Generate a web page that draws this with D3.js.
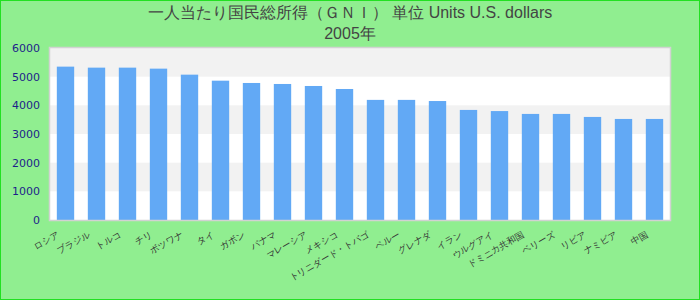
<!DOCTYPE html>
<html>
<head>
<meta charset="utf-8">
<title>2005</title>
<style>
    body { margin: 0; }
    svg { display: block; font-family: "Liberation Sans", Arial, sans-serif; }
</style>
</head>
<body>
<svg width="700" height="300"></svg>
<script src="https://cdnjs.cloudflare.com/ajax/libs/d3/7.8.5/d3.min.js"></script>
<script>
    // datos
    const titleLines = ["一人当たり国民総所得（ＧＮＩ） 単位 Units U.S. dollars", "2005年"];
    const categories = ["ロシア", "ブラジル", "トルコ", "チリ", "ボツワナ", "タイ", "ガボン", "パナマ", "マレーシア", "メキシコ",
        "トリニダード・トバゴ", "ペルー", "グレナダ", "イラン", "ウルグアイ", "ドミニカ共和国", "ベリーズ", "リビア", "ナミビア", "中国"];
    const values = [5350, 5315, 5315, 5280, 5070, 4860, 4780, 4745, 4675, 4570,
        4190, 4190, 4150, 3840, 3800, 3700, 3700, 3595, 3525, 3525];
    const yTicks = [0, 1000, 2000, 3000, 4000, 5000, 6000];

    const svg = d3.select("svg");
    const width = 700, height = 300;
    const margin = { top: 48, right: 30, bottom: 80, left: 50 };
    const x0 = margin.left, x1 = width - margin.right;
    const y0 = height - margin.bottom, y1 = margin.top;

    // fondo y marco exterior
    svg.append("rect")
        .attr("x", 0.5).attr("y", 0.5)
        .attr("width", width - 1).attr("height", height - 1)
        .attr("fill", "#90ee90")
        .attr("stroke", "#22e022");

    const x = d3.scaleBand()
        .domain(categories)
        .range([x0, x1])
        .paddingInner(0.44)
        .paddingOuter(0.22);
    const y = d3.scaleLinear()
        .domain([0, 6000])
        .range([y0, y1]);

    // area del grafico con bandas alternas
    svg.append("rect")
        .attr("x", x0).attr("y", y1)
        .attr("width", x1 - x0).attr("height", y0 - y1)
        .attr("fill", "#ffffff");
    svg.append("g").selectAll("rect")
        .data(d3.pairs(yTicks).filter((d, i) => i % 2 === 1))
        .enter().append("rect")
        .attr("x", x0)
        .attr("y", d => y(d[1]))
        .attr("width", x1 - x0)
        .attr("height", d => y(d[0]) - y(d[1]))
        .attr("fill", "#f2f2f2");

    // barras
    svg.append("g").selectAll("rect")
        .data(values)
        .enter().append("rect")
        .attr("x", (d, i) => x(categories[i]))
        .attr("y", d => y(d))
        .attr("width", x.bandwidth())
        .attr("height", d => y0 - y(d))
        .attr("fill", "#62a9f5");

    // borde del area
    svg.append("rect")
        .attr("x", x0 - 0.5).attr("y", y1 - 0.5)
        .attr("width", x1 - x0 + 1).attr("height", y0 - y1 + 1)
        .attr("fill", "none")
        .attr("stroke", "#d2d2d2")
        .attr("stroke-width", 1.5);

    // eje Y
    const yAxis = d3.axisLeft(y).tickValues(yTicks).tickFormat(d3.format("d")).tickSize(0).tickPadding(10);
    const gy = svg.append("g")
        .attr("transform", "translate(" + x0 + ",0)")
        .call(yAxis);
    gy.select(".domain").remove();
    gy.selectAll("text")
        .attr("font-size", 11)
        .attr("font-family", "\"DejaVu Sans\", sans-serif")
        .attr("fill", "#1e1e8a");

    // eje X con etiquetas giradas
    const xAxis = d3.axisBottom(x).tickSize(0).tickPadding(0);
    const gx = svg.append("g")
        .attr("transform", "translate(0," + y0 + ")")
        .call(xAxis);
    gx.select(".domain").remove();
    gx.selectAll("text")
        .attr("font-size", 9)
        .attr("fill", "#333")
        .attr("text-anchor", "end")
        .attr("dy", 0)
        .attr("y", 0)
        .attr("transform", "translate(-6,16) rotate(-30)");

    // titulo
    svg.append("g").selectAll("text")
        .data(titleLines)
        .enter().append("text")
        .attr("x", width / 2)
        .attr("y", (d, i) => 18 + i * 21)
        .attr("text-anchor", "middle")
        .attr("font-size", 16)
        .attr("fill", "#444")
        .text(d => d);
</script>
</body>
</html>
